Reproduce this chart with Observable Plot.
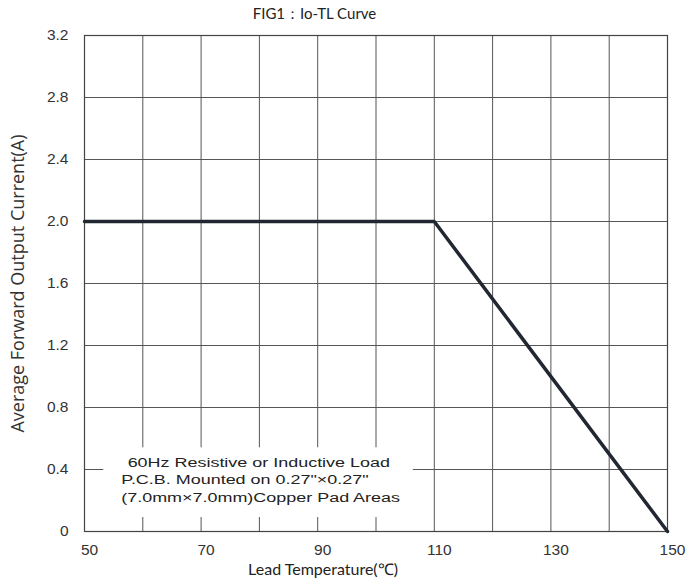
<!DOCTYPE html>
<html>
<head>
<meta charset="utf-8">
<script src="https://cdn.jsdelivr.net/npm/d3@7"></script>
<script src="https://cdn.jsdelivr.net/npm/@observablehq/plot@0.6"></script>
<style>
  body { margin: 0; background: #fff; }
  #title { width: 691px; height: 26px; box-sizing: border-box; padding-right: 62px; padding-top: 4px;
           text-align: center; font: 15px Lato, "Open Sans", sans-serif; color: #222; }
</style>
</head>
<body>
<div id="title">FIG1：Io-TL Curve</div>
<div id="chart"></div>
<script>
const temperature = [50, 110, 150];
const current = [2.0, 2.0, 0];
const xTicks = [50, 70, 90, 110, 130, 150];
const yTicks = [0, 0.4, 0.8, 1.2, 1.6, 2.0, 2.4, 2.8, 3.2];
const xGrid = [60, 70, 80, 90, 100, 110, 120, 130, 140];
const noteLines = [
  "60Hz Resistive or Inductive Load",
  "P.C.B. Mounted on 0.27\"×0.27\"",
  "(7.0mm×7.0mm)Copper Pad Areas"
];
const noteX = [57.4, 56.3, 56.3];
const noteY = [0.445, 0.335, 0.22];
const noteBox = {x1: 53.3, x2: 106.4, y1: 0.09, y2: 0.54};
const xLabel = "Lead Temperature(℃)";
const yLabel = "Average Forward Output Current(A)";

const curve = temperature.map((t, i) => ({t, c: current[i]}));
const notes = noteLines.map((s, i) => ({s, x: noteX[i], y: noteY[i]}));

const chart = Plot.plot({
  width: 691,
  height: 562,
  marginLeft: 84,
  marginRight: 24,
  marginTop: 9,
  marginBottom: 57,
  style: {fontFamily: "'Liberation Sans', Arial, sans-serif", fontSize: "15px", color: "#333"},
  x: {domain: [50, 150]},
  y: {domain: [0, 3.2]},
  marks: [
    Plot.ruleX(xGrid, {stroke: "#555", strokeWidth: 1, strokeOpacity: 1}),
    Plot.ruleY(yTicks, {stroke: "#555", strokeWidth: 1, strokeOpacity: 1}),
    Plot.rect([noteBox], {x1: "x1", x2: "x2", y1: "y1", y2: "y2", fill: "white"}),
    Plot.frame({stroke: "#444", strokeWidth: 1.2}),
    Plot.axisX({ticks: xTicks, tickSize: 0, tickPadding: 12, label: null, fontSize: 15.5, dx: 5}),
    Plot.axisY({ticks: yTicks, tickSize: 0, tickPadding: 16, label: null, fontSize: 15.5,
                tickFormat: d => d === 0 ? "0" : d.toFixed(1)}),
    Plot.text(notes, {x: "x", y: "y", text: "s", textAnchor: "start", fontSize: 13.5, fill: "#222"}),
    Plot.line(curve, {x: "t", y: "c", stroke: "#222831", strokeWidth: 3.5, strokeLinejoin: "miter"}),
    Plot.text([xLabel], {frameAnchor: "bottom", dx: -53, dy: 43, text: d => d, fontSize: 16,
                         fontFamily: "Lato, 'Open Sans', sans-serif", fill: "#222"}),
    Plot.text([yLabel], {frameAnchor: "left", textAnchor: "middle", rotate: -90, dx: -66, text: d => d,
                         fontSize: 18, fontFamily: "'Open Sans', sans-serif", fill: "#333"})
  ]
});
// the reference's note text is horizontally stretched
d3.select(chart).selectAll("text")
  .filter(function() { return noteLines.includes(this.textContent); })
  .each(function() {
    const el = this;
    let t = el.getAttribute("transform");
    if (!t) {
      const x = +(el.getAttribute("x") || 0), y = +(el.getAttribute("y") || 0);
      el.removeAttribute("x"); el.removeAttribute("y");
      t = `translate(${x},${y})`;
    }
    el.setAttribute("transform", t + " scale(1.33,1)");
  });
document.getElementById("chart").appendChild(chart);
</script>
</body>
</html>
